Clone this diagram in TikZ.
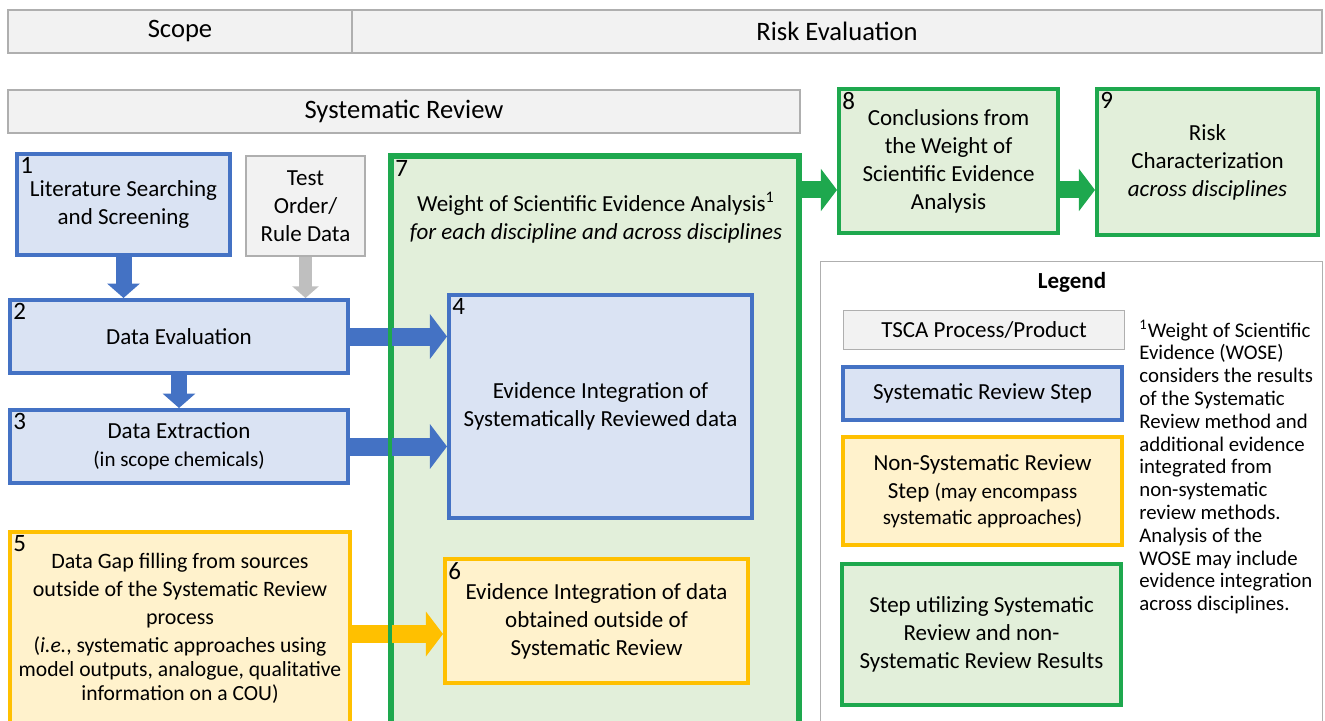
\documentclass[tikz,border=0pt]{standalone}
\usepackage{fontspec}
\setmainfont{Carlito}
\usetikzlibrary{arrows.meta}

\definecolor{srline}{HTML}{4472C4}
\definecolor{srfill}{HTML}{DAE3F3}
\definecolor{nsrline}{HTML}{FFC000}
\definecolor{nsrfill}{HTML}{FFF2CC}
\definecolor{woseline}{HTML}{1EA84E}
\definecolor{wosefill}{HTML}{E2EFDA}
\definecolor{tscaline}{HTML}{AFAFAF}
\definecolor{tscafill}{HTML}{F2F2F2}
\definecolor{tscaarrow}{HTML}{BFBFBF}

\newcommand\petit[2][10.5]{{\fontsize{#1}{12}\selectfont #2}}

\tikzset{frame/.style    = {align=center, inner sep=2pt, line width=2pt},
         srstep/.style   = {frame, draw=srline, fill=srfill},
         nsrstep/.style  = {frame, draw=nsrline, fill=nsrfill},
         wosestep/.style = {frame, draw=woseline, fill=wosefill},
         tsca/.style     = {align=center, inner sep=2pt, draw=tscaline, fill=tscafill, line width=0.7pt},
         header/.style   = {tsca, font=\fontsize{13.3}{16}\selectfont, minimum height=21.5pt},
         num/.style      = {anchor=north west, inner sep=2.5pt, font=\fontsize{12.5}{14}\selectfont},
         bigarrow/.style = {line width=#1, -{Triangle[width=2.45*#1, length=0.95*#1]}},
         bigarrow/.default=9pt,
         downarrow/.style = {line width=#1, -{Triangle[width=2*#1, length=0.9*#1]}},
         downarrow/.default=8pt
        }

\begin{document}
\begin{tikzpicture}[x=0.5pt, y=-0.5pt, font=\fontsize{11.5}{14}\selectfont]
  \useasboundingbox (0,0) rectangle (1325,721);
  \clip (0,0) rectangle (1325,721);

  % bandeaux du haut
  \node[header, minimum width=172pt] (scope) at (180,31.5) {Scope};
  \node[header, minimum width=485pt] (risk) at (837,31.5) {Risk Evaluation};
  \node[header, minimum width=396pt] (sysrev) at (404,111.5) {Systematic Review};

  % grande boite 7
  \node[wosestep, minimum width=203pt, minimum height=300pt,
        label={[num]north west:7}] (b7) at (595,457.5) {};
  \node[align=center] (t7) at (596,218) {Weight of Scientific Evidence Analysis\textsuperscript{1}\\
                           \textit{for each discipline and across disciplines}};

  % etapes de la revue systematique
  \node[srstep, minimum width=106.5pt, minimum height=50.5pt,
        label={[num]north west:1}] (b1) at (123.5,204.5) {Literature Searching\\and Screening};
  \node[tsca, minimum width=59.5pt, minimum height=50pt] (bt) at (305.5,206) {Test\\Order/\\Rule Data};
  \node[srstep, minimum width=169pt, minimum height=36.5pt,
        label={[num]north west:2}] (b2) at (179,336.5) {Data Evaluation};
  \node[srstep, minimum width=169pt, minimum height=36.5pt,
        label={[num]north west:3}] (b3) at (179,446.5) {Data Extraction\\\petit{(in scope chemicals)}};
  \node[srstep, minimum width=151.5pt, minimum height=111.5pt,
        label={[num]north west:4}] (b4) at (600.5,406.5) {Evidence Integration of\\Systematically Reviewed data};

  % hors revue systematique
  \node[nsrstep, minimum width=170pt, minimum height=96pt, font=\fontsize{11}{14}\selectfont,
        label={[num]north west:5}] (b5) at (180,628)
       {Data Gap filling from sources\\outside of the Systematic Review\\process\\
        \petit[10.8]{(\textit{i.e.}, systematic approaches using}\\[-2pt]
        \petit[10.8]{model outputs, analogue, qualitative}\\[-2pt]
        \petit[10.8]{information on a COU)}};
  \node[nsrstep, minimum width=151.5pt, minimum height=62pt,
        label={[num]north west:6}] (b6) at (596.5,621)
       {Evidence Integration of data\\obtained outside of\\Systematic Review};

  % conclusions
  \node[wosestep, minimum width=109.5pt, minimum height=72pt,
        label={[num]north west:8}] (b8) at (948.5,161)
       {Conclusions from\\the Weight of\\Scientific Evidence\\Analysis};
  \node[wosestep, minimum width=110.5pt, minimum height=73pt,
        label={[num]north west:9}] (b9) at (1207.5,162)
       {Risk\\Characterization\\\textit{across disciplines}};

  % fleches
  \draw[downarrow, srline] (b1.south) -- (b1.south |- b2.north);
  \draw[downarrow=6.5pt, tscaarrow] (bt.south) -- (bt.south |- b2.north);
  \draw[downarrow, srline] (b2.south) -- (b3.north);
  \draw[bigarrow, srline] (b2.east) -- (b2.east -| b4.west);
  \draw[bigarrow, srline] (b3.east) -- (b3.east -| b4.west);
  \coordinate (a5) at ([yshift=-3pt]b5.east);
  \draw[bigarrow, nsrline] (a5) -- (a5 -| b6.west);
  \coordinate (a8) at ([yshift=-14.5pt]b8.west);
  \draw[bigarrow=8.5pt, woseline] (a8 -| b7.east) -- (a8);
  \draw[bigarrow=8.5pt, woseline] (a8 -| b8.east) -- (a8 -| b9.west);
  \draw[woseline, line width=2pt] (b7.south west) rectangle (b7.north east);

  % legende
  \node[draw=tscaline, line width=0.5pt, minimum width=251pt, minimum height=239pt] (leg) at (1071.5,501) {};
  \node[font=\fontsize{11.5}{14}\selectfont\bfseries] (legt) at (1072,282) {Legend};
  \node[tsca, minimum width=140.5pt, minimum height=19.5pt] (l1) at (984,330) {TSCA Process/Product};
  \node[srstep, minimum width=139.5pt, minimum height=26.5pt] (l2) at (982.5,393.5) {Systematic Review Step};
  \node[nsrstep, minimum width=139.5pt, minimum height=54pt] (l3) at (982.5,491)
       {Non-Systematic Review\\Step \petit{(may encompass}\\[-1pt]\petit{systematic approaches)}};
  \node[wosestep, minimum width=139.5pt, minimum height=70.5pt] (l4) at (981.5,634.5)
       {Step utilizing Systematic\\Review and non-\\Systematic Review Results};
  \node[anchor=north west, align=left, inner sep=0pt, font=\fontsize{10.4}{11.4}\selectfont] (note) at (1139,320)
       {\textsuperscript{1}Weight of Scientific\\Evidence (WOSE)\\considers the results\\of the Systematic\\
        Review method and\\additional evidence\\integrated from\\non-systematic\\review methods.\\
        Analysis of the\\WOSE may include\\evidence integration\\across disciplines.};
\end{tikzpicture}
\end{document}
